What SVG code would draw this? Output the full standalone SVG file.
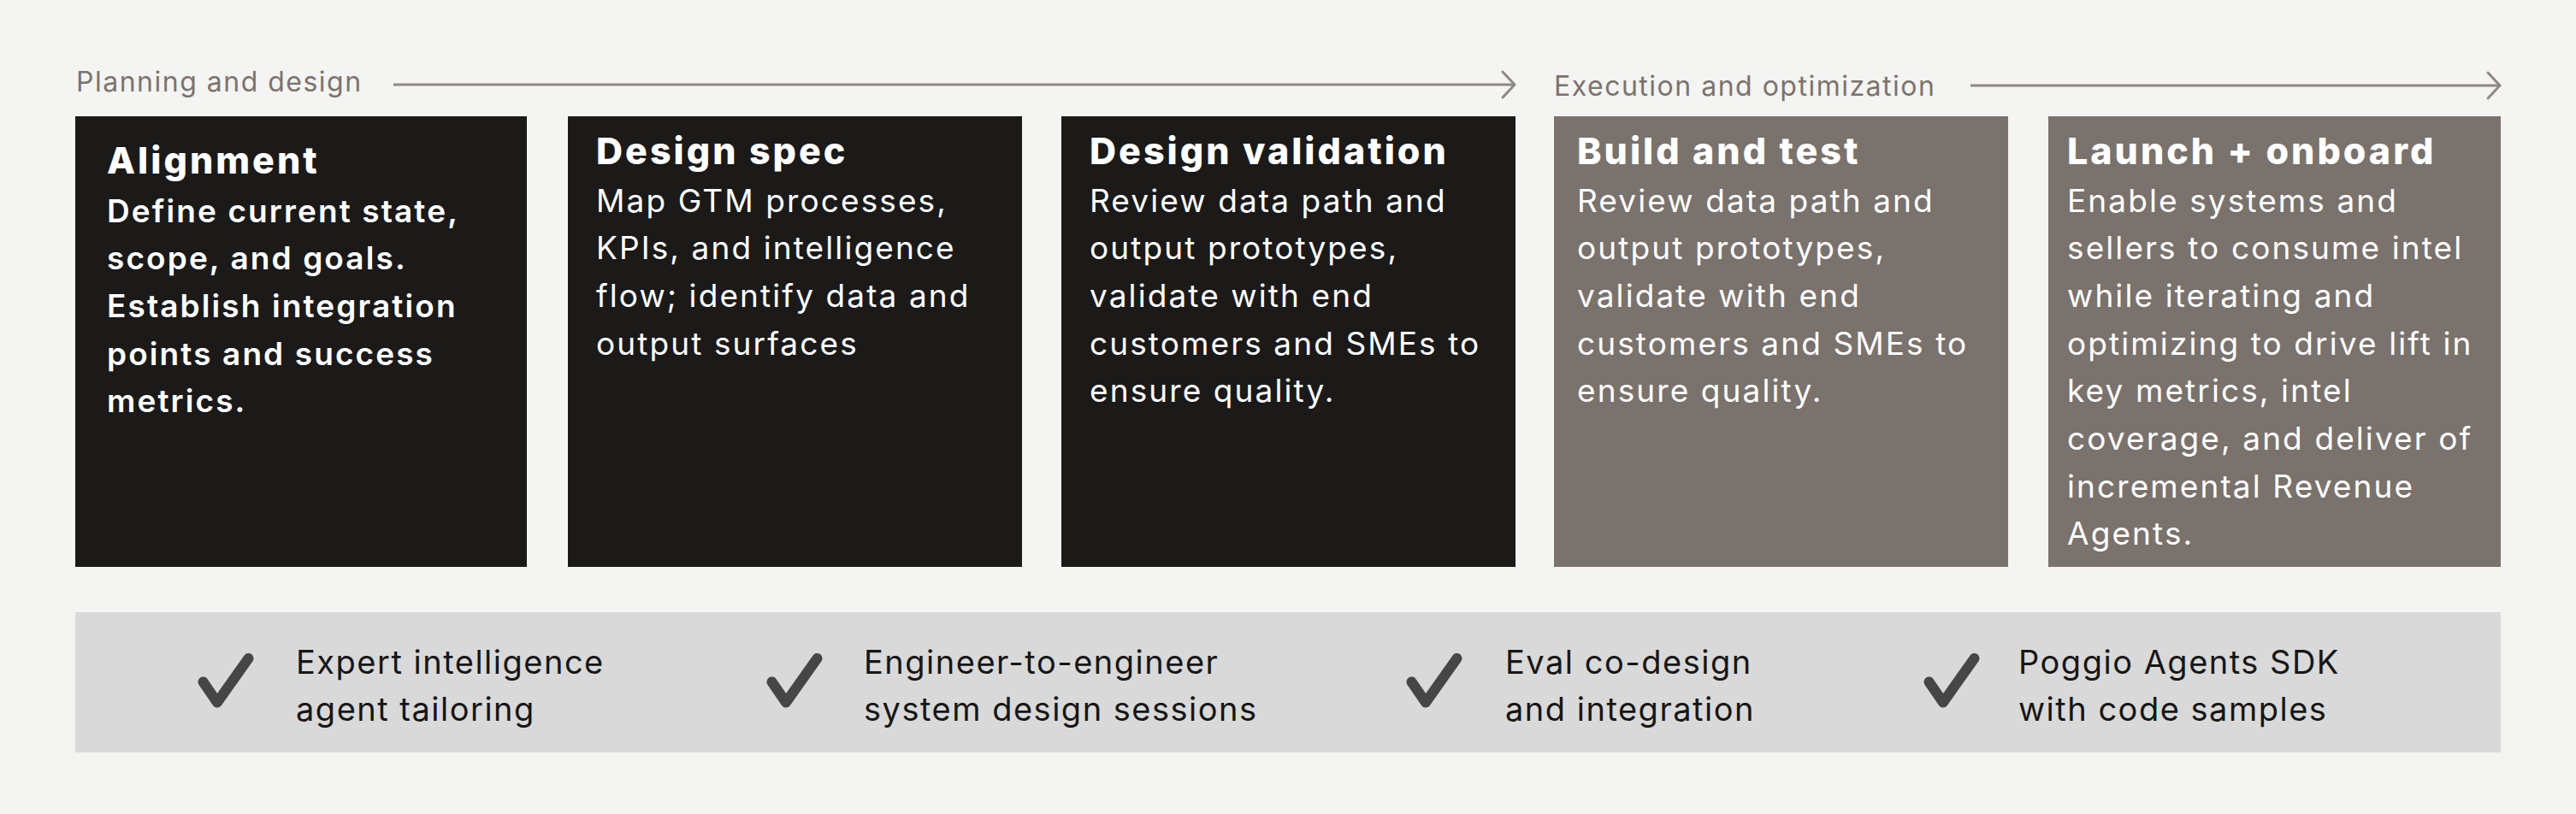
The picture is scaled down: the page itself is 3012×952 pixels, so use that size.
<svg xmlns="http://www.w3.org/2000/svg" width="3012" height="952" viewBox="0 0 3012 952">
<style>
  .bg{fill:#f4f4f2}
  .phase{font-family:Inter,"Liberation Sans",sans-serif;font-size:32px;fill:#7b736e;letter-spacing:1.5px}
  .conn{stroke:#8e8985;stroke-width:3;fill:none}
  .dark{fill:#1b1a19}
  .taupe{fill:#7a726c}
  .title{font-family:Inter,"Liberation Sans",sans-serif;font-size:43px;font-weight:800;fill:#ffffff;letter-spacing:3px}
  .body{font-family:Inter,"Liberation Sans",sans-serif;font-size:37px;font-weight:400;fill:#ffffff;letter-spacing:2.1px}
  .strong{font-weight:600}
  .band{fill:#d9d9d9}
  .check{stroke:#464646;stroke-width:12;fill:none;stroke-linecap:round;stroke-linejoin:round}
  .feat{font-family:Inter,"Liberation Sans",sans-serif;font-size:38px;fill:#161616;letter-spacing:1.5px}
</style>
<defs>
  <marker id="chev" markerUnits="userSpaceOnUse" markerWidth="20" markerHeight="34" refX="16" refY="17" orient="auto" overflow="visible">
    <path d="M2,2 L16,17 L2,32" fill="none" stroke="#8e8985" stroke-width="3" stroke-linecap="round" stroke-linejoin="round"/>
  </marker>
</defs>
<rect class="bg" x="0" y="0" width="3012" height="952"/>

<g id="phase-planning">
  <text class="phase" x="89" y="107">Planning and design</text>
</g>
<g id="phase-execution">
  <text class="phase" x="1817" y="112">Execution and optimization</text>
</g>

<g id="connectors">
  <line class="conn" x1="460" y1="99" x2="1771" y2="99" marker-end="url(#chev)"/>
  <line class="conn" x1="2304" y1="100" x2="2923" y2="100" marker-end="url(#chev)"/>
</g>

<g id="alignment">
  <rect class="dark" x="88" y="136" width="528" height="527"/>
  <text class="title" x="125" y="203">Alignment</text>
  <text class="body strong">
    <tspan x="125" y="259.5">Define current state,</tspan>
    <tspan x="125" y="315.2">scope, and goals.</tspan>
    <tspan x="125" y="370.9">Establish integration</tspan>
    <tspan x="125" y="426.6">points and success</tspan>
    <tspan x="125" y="482.3">metrics.</tspan>
  </text>
</g>

<g id="design-spec">
  <rect class="dark" x="664" y="136" width="531" height="527"/>
  <text class="title" x="697" y="192">Design spec</text>
  <text class="body">
    <tspan x="697" y="247.5">Map GTM processes,</tspan>
    <tspan x="697" y="303.2">KPIs, and intelligence</tspan>
    <tspan x="697" y="358.9">flow; identify data and</tspan>
    <tspan x="697" y="414.6">output surfaces</tspan>
  </text>
</g>

<g id="design-validation">
  <rect class="dark" x="1241" y="136" width="531" height="527"/>
  <text class="title" x="1274" y="192">Design validation</text>
  <text class="body">
    <tspan x="1274" y="247.5">Review data path and</tspan>
    <tspan x="1274" y="303.2">output prototypes,</tspan>
    <tspan x="1274" y="358.9">validate with end</tspan>
    <tspan x="1274" y="414.6">customers and SMEs to</tspan>
    <tspan x="1274" y="470.3">ensure quality.</tspan>
  </text>
</g>

<g id="build-and-test">
  <rect class="taupe" x="1817" y="136" width="531" height="527"/>
  <text class="title" x="1844" y="192">Build and test</text>
  <text class="body">
    <tspan x="1844" y="247.5">Review data path and</tspan>
    <tspan x="1844" y="303.2">output prototypes,</tspan>
    <tspan x="1844" y="358.9">validate with end</tspan>
    <tspan x="1844" y="414.6">customers and SMEs to</tspan>
    <tspan x="1844" y="470.3">ensure quality.</tspan>
  </text>
</g>

<g id="launch-onboard">
  <rect class="taupe" x="2395" y="136" width="529" height="527"/>
  <text class="title" x="2417" y="192">Launch + onboard</text>
  <text class="body">
    <tspan x="2417" y="247.5">Enable systems and</tspan>
    <tspan x="2417" y="303.2">sellers to consume intel</tspan>
    <tspan x="2417" y="358.9">while iterating and</tspan>
    <tspan x="2417" y="414.6">optimizing to drive lift in</tspan>
    <tspan x="2417" y="470.3">key metrics, intel</tspan>
    <tspan x="2417" y="526">coverage, and deliver of</tspan>
    <tspan x="2417" y="581.7">incremental Revenue</tspan>
    <tspan x="2417" y="637.4">Agents.</tspan>
  </text>
</g>

<g id="capabilities">
  <rect class="band" x="88" y="716" width="2836" height="164"/>
  <g id="cap-expert">
    <path class="check" d="M237.5,797.5 L254,821.5 L290.5,770"/>
    <text class="feat"><tspan x="346" y="788">Expert intelligence</tspan><tspan x="346" y="843">agent tailoring</tspan></text>
  </g>
  <g id="cap-engineer">
    <path class="check" d="M902.5,797.5 L919,821.5 L955.5,770"/>
    <text class="feat"><tspan x="1010" y="788">Engineer-to-engineer</tspan><tspan x="1010" y="843">system design sessions</tspan></text>
  </g>
  <g id="cap-eval">
    <path class="check" d="M1650.5,797.5 L1667,821.5 L1703.5,770"/>
    <text class="feat"><tspan x="1760" y="788">Eval co-design</tspan><tspan x="1760" y="843">and integration</tspan></text>
  </g>
  <g id="cap-sdk">
    <path class="check" d="M2255.5,797.5 L2272,821.5 L2308.5,770"/>
    <text class="feat"><tspan x="2360" y="788">Poggio Agents SDK</tspan><tspan x="2360" y="843">with code samples</tspan></text>
  </g>
</g>
</svg>
